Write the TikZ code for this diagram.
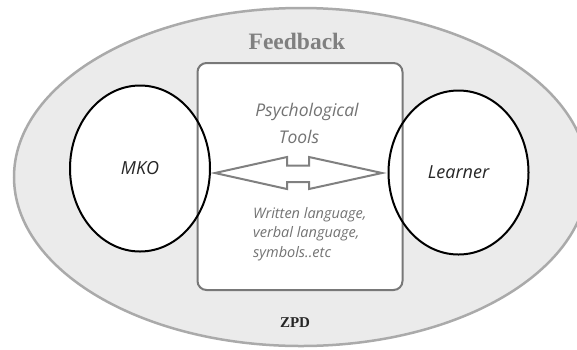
\documentclass[tikz,border=0pt]{standalone}
\usepackage{fontspec}
\setmainfont{Liberation Serif}
\newfontfamily\handfont{Open Sans}
\usetikzlibrary{shapes.geometric}
\definecolor{zpdfill}{RGB}{235,235,235}
\definecolor{zpdline}{RGB}{170,170,170}
\definecolor{boxline}{RGB}{120,120,120}
\definecolor{arrowline}{RGB}{128,128,128}
\definecolor{softtext}{RGB}{115,115,115}
\definecolor{fbtext}{RGB}{128,128,128}
\tikzset{
  agent/.style={ellipse, draw=black, line width=2pt, inner sep=0pt,
    minimum width=140pt, minimum height=166pt, font=\handfont\itshape\fontsize{18}{20}\selectfont, text=black!85},
  toolbox/.style={draw=boxline, line width=2pt, fill=white, rounded corners=9pt,
    minimum width=205pt, minimum height=227pt, inner sep=0pt},
  handtext/.style={font=\handfont\itshape\fontsize{14.5}{19.5}\selectfont, text=softtext, inner sep=0pt},
  bightext/.style={font=\handfont\itshape\fontsize{17.5}{25}\selectfont, text=softtext, inner sep=0pt},
  blockarrow/.style={draw=arrowline, line width=2pt, fill=white, line join=miter},
}
\begin{document}
\begin{tikzpicture}[x=1pt,y=-1pt]
\useasboundingbox (0,0) rectangle (577,349);
\begin{scope}
\clip (0,0) rectangle (577,349);
\draw[fill=zpdfill, draw=zpdline, line width=2.5pt] (301,177) ellipse [x radius=287pt, y radius=169pt];
\end{scope}
\fill[white] (140,168.5) ellipse [x radius=70pt, y radius=83pt];
\fill[white] (458.5,172.5) ellipse [x radius=70pt, y radius=82pt];
\node[toolbox] (tools) at (300,176.5) {};
\node[agent] (mko) at (140,168.5) {MKO};
\node[agent, minimum height=164pt] (learner) at (458.5,172.5) {Learner};
\node[font=\bfseries\fontsize{23.5}{26}\selectfont, text=fbtext] (feedback) at (297,41) {Feedback};
\node[font=\bfseries\fontsize{15}{18}\selectfont, text=black!85] (zpd) at (295,323) {ZPD};
\node[bightext] (psy) at (307,112) {Psychological};
\node[bightext] (psy2) at (299,137) {Tools};
\node[handtext, align=left, anchor=north west] (written) at (253,207) {Written language,\\verbal language,\\symbols..etc};
\coordinate (al) at (215,173);
\coordinate (ar) at (382,173);
\draw[blockarrow] (al) -- ++(72,-16) -- ++(0,8.5) -- ++(22,0) -- ++(0,-8.5) -- (ar)
  -- ++(-73,16) -- ++(0,-7) -- ++(-22,0) -- ++(0,7) -- cycle;
\end{tikzpicture}
\end{document}
